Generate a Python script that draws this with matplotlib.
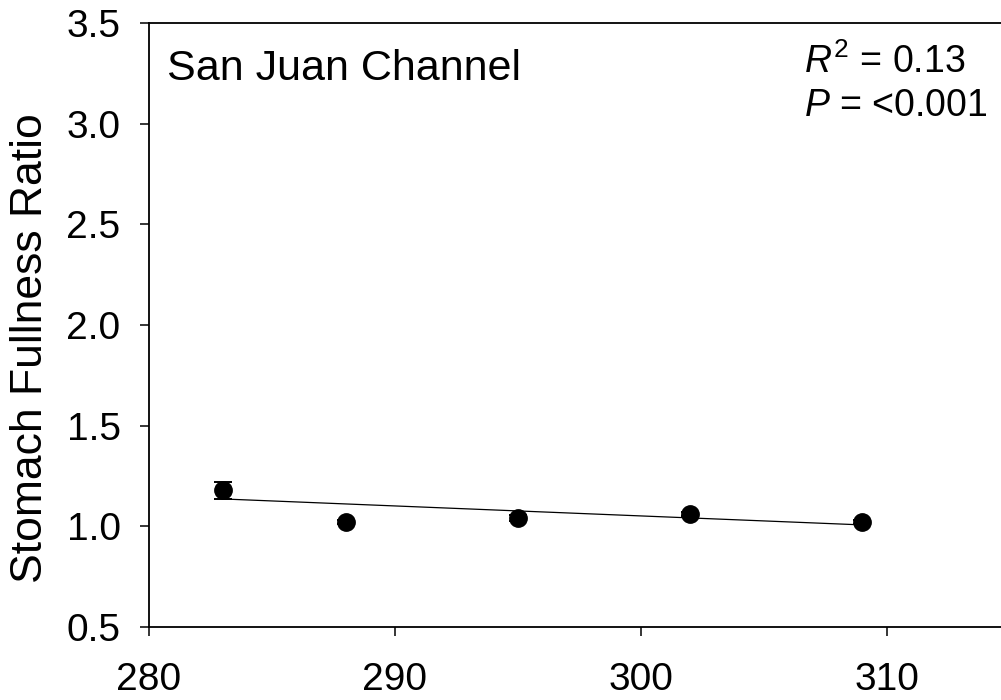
import matplotlib
matplotlib.use("Agg")
import matplotlib.pyplot as plt
import numpy as np

# data
length = [283, 288, 295, 302, 309]
fullness = [1.18, 1.02, 1.043, 1.061, 1.02]
fullness_se = [0.042, 0.01, 0.015, 0.012, 0.01]
fit_x = [283, 309]
slope = -0.00496
intercept = 1.136 - slope * 283

plt.rcParams['font.family'] = ['Liberation Sans', 'DejaVu Sans']
plt.rcParams['mathtext.fontset'] = 'custom'
plt.rcParams['mathtext.rm'] = 'Liberation Sans'
plt.rcParams['mathtext.it'] = 'Liberation Sans:italic'

W, H = 1001, 700
fig = plt.figure(figsize=(W / 100, H / 100), dpi=100)
left, right, top, bottom = 149, 1010, 23, 627
ax = fig.add_axes([left / W, 1 - bottom / H, (right - left) / W, (bottom - top) / H])

fx = np.array(fit_x)
ax.plot(fx, intercept + slope * fx, color='black', lw=0.9, zorder=2)
ax.errorbar(length, fullness, yerr=fullness_se, fmt='o', color='black',
            markersize=12.5, capsize=6.5, elinewidth=1.2, capthick=1.4, zorder=3)

ax.set_xlim(280, 315)
ax.set_ylim(0.5, 3.5)
ax.set_xticks([280, 290, 300, 310])
ax.set_yticks([0.5, 1.0, 1.5, 2.0, 2.5, 3.0, 3.5])
ax.set_yticklabels(['0.5', '1.0', '1.5', '2.0', '2.5', '3.0', '3.5'])
ax.tick_params(direction='out', length=6.5, width=1.1, labelsize=28)
ax.tick_params(axis='x', pad=19)
ax.tick_params(axis='y', pad=14)
for s in ax.spines.values():
    s.set_linewidth(1.3)
ax.spines['right'].set_visible(False)

ax.text(167 / W, 1 - 80 / H, 'San Juan Channel', transform=fig.transFigure,
        fontsize=31, ha='left', va='baseline')
ax.text(804 / W, 1 - 73 / H, r'$R^2$ = 0.13', transform=fig.transFigure,
        fontsize=27, ha='left', va='baseline')
ax.text(804 / W, 1 - 116 / H, r'$P$ = <0.001', transform=fig.transFigure,
        fontsize=27, ha='left', va='baseline')

fig.text(31 / W, 1 - 348 / H, 'Stomach Fullness Ratio', rotation=90,
         fontsize=32, ha='center', va='center')

fig.savefig('out.png', dpi=100)
